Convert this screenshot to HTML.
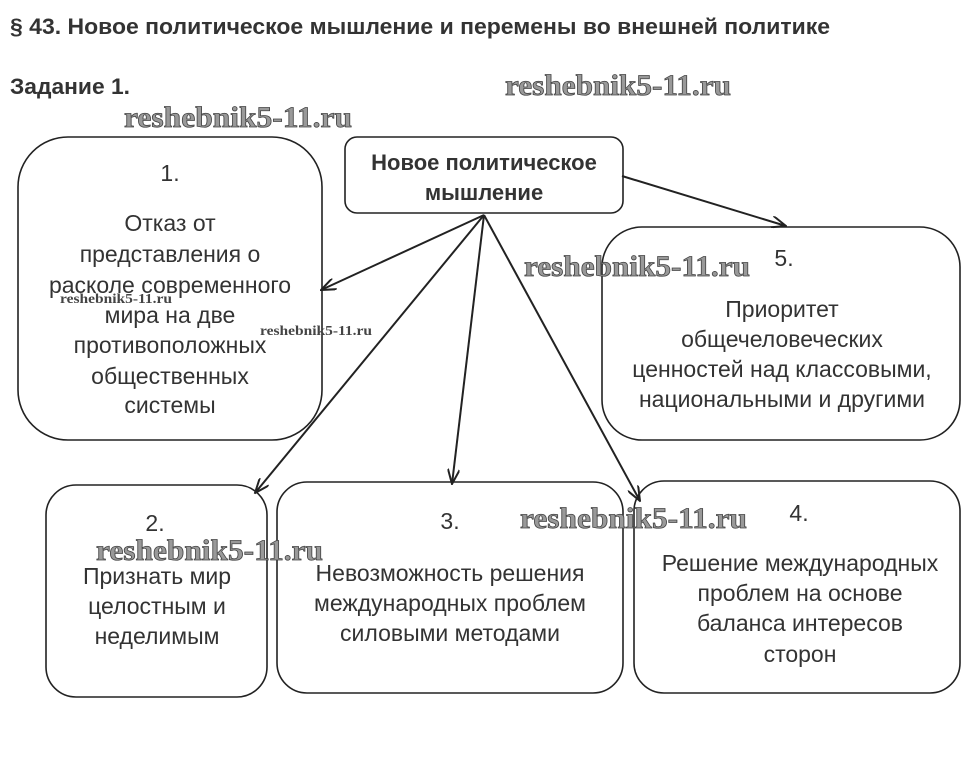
<!DOCTYPE html>
<html><head><meta charset="utf-8"><style>
html,body{margin:0;padding:0;background:#fff;}
svg{display:block;}
.t{font-family:"Liberation Sans",sans-serif;font-size:23px;fill:#333;text-anchor:middle;}
.b{font-family:"Liberation Sans",sans-serif;font-weight:bold;fill:#333;}
.w{font-family:"Liberation Serif",serif;font-weight:bold;font-size:30px;fill:#999;stroke:#444;stroke-width:0.8;}
.ws{font-family:"Liberation Serif",serif;font-weight:bold;font-size:14px;fill:#444;}
rect{fill:#fff;stroke:#222;stroke-width:1.6;}
line{stroke:#222;stroke-width:2;}
</style></head><body>
<svg width="966" height="761" viewBox="0 0 966 761">
<defs><marker id="a" markerWidth="16" markerHeight="12" refX="15" refY="6" orient="auto" markerUnits="userSpaceOnUse"><path d="M0,0 L15,6 L0,12" fill="none" stroke="#222" stroke-width="2"/></marker></defs>
<text class="b" x="10" y="34" font-size="22" textLength="820" lengthAdjust="spacingAndGlyphs">§ 43. Новое политическое мышление и перемены во внешней политике</text>
<text class="b" x="10" y="94" font-size="22" textLength="120" lengthAdjust="spacingAndGlyphs">Задание 1.</text>
<rect x="18" y="137" width="304" height="303" rx="50"/>
<rect x="345" y="137" width="278" height="76" rx="12"/>
<rect x="602" y="227" width="358" height="213" rx="40"/>
<rect x="46" y="485" width="221" height="212" rx="30"/>
<rect x="277" y="482" width="346" height="211" rx="30"/>
<rect x="634" y="481" width="326" height="212" rx="30"/>
<line x1="484" y1="215" x2="321" y2="290" marker-end="url(#a)"/>
<line x1="484" y1="215" x2="255" y2="493" marker-end="url(#a)"/>
<line x1="484" y1="215" x2="452" y2="484" marker-end="url(#a)"/>
<line x1="484" y1="215" x2="640" y2="501" marker-end="url(#a)"/>
<line x1="622" y1="176" x2="786" y2="226" marker-end="url(#a)"/>
<text class="b" x="484" y="170" font-size="22" text-anchor="middle">Новое политическое</text>
<text class="b" x="484" y="200" font-size="22" text-anchor="middle">мышление</text>
<g class="t">
<text x="170" y="181">1.</text>
<text x="170" y="231">Отказ от</text>
<text x="170" y="262">представления о</text>
<text x="170" y="293">расколе современного</text>
<text x="170" y="323">мира на две</text>
<text x="170" y="353">противоположных</text>
<text x="170" y="384">общественных</text>
<text x="170" y="413">системы</text>
<text x="784" y="266">5.</text>
<text x="782" y="317">Приоритет</text>
<text x="782" y="347">общечеловеческих</text>
<text x="782" y="377">ценностей над классовыми,</text>
<text x="782" y="407">национальными и другими</text>
<text x="155" y="531">2.</text>
<text x="157" y="584">Признать мир</text>
<text x="157" y="614">целостным и</text>
<text x="157" y="644">неделимым</text>
<text x="450" y="529">3.</text>
<text x="450" y="581">Невозможность решения</text>
<text x="450" y="611">международных проблем</text>
<text x="450" y="641">силовыми методами</text>
<text x="799" y="521">4.</text>
<text x="800" y="571">Решение международных</text>
<text x="800" y="601">проблем на основе</text>
<text x="800" y="631">баланса интересов</text>
<text x="800" y="662">сторон</text>
</g>
<text class="w" x="505" y="95" textLength="226" lengthAdjust="spacingAndGlyphs">reshebnik5-11.ru</text>
<text class="w" x="124" y="127" textLength="228" lengthAdjust="spacingAndGlyphs">reshebnik5-11.ru</text>
<text class="w" x="524" y="276" textLength="226" lengthAdjust="spacingAndGlyphs">reshebnik5-11.ru</text>
<text class="w" x="96" y="560" textLength="227" lengthAdjust="spacingAndGlyphs">reshebnik5-11.ru</text>
<text class="w" x="520" y="528" textLength="227" lengthAdjust="spacingAndGlyphs">reshebnik5-11.ru</text>
<text class="ws" x="60" y="303" textLength="112" lengthAdjust="spacingAndGlyphs">reshebnik5-11.ru</text>
<text class="ws" x="260" y="335" textLength="112" lengthAdjust="spacingAndGlyphs">reshebnik5-11.ru</text>
</svg>
</body></html>
